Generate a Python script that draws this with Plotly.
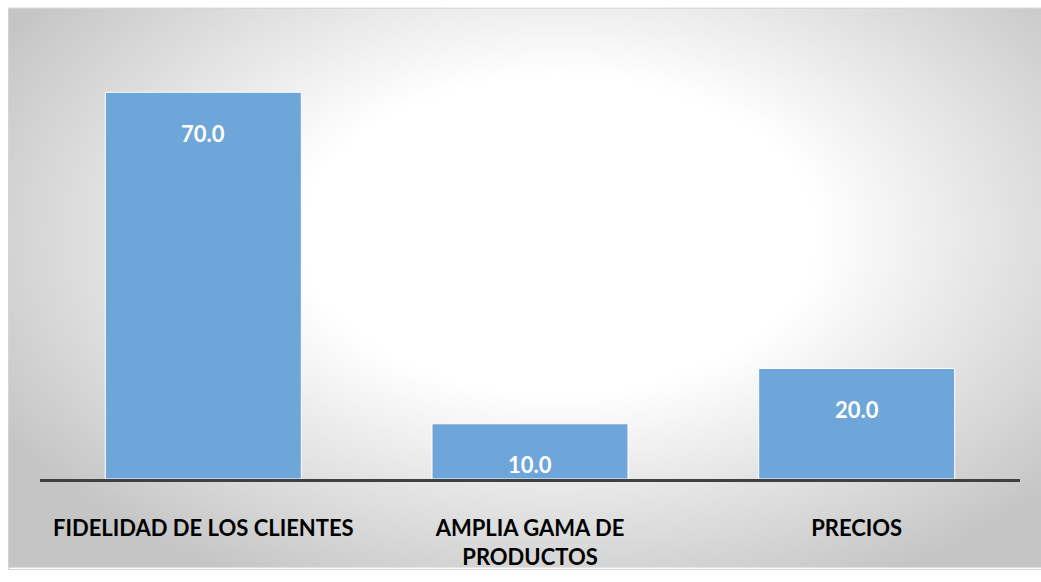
import base64, struct, zlib
import plotly.graph_objects as go

categories = ["FIDELIDAD DE LOS CLIENTES", "AMPLIA GAMA DE<br>PRODUCTOS", "PRECIOS"]
values = [70.0, 10.0, 20.0]
value_labels = ["70.0", "10.0", "20.0"]

# ---- radial gradient background as PNG (styling only) ----
def make_png(w, h):
    rows = []
    cx, cy = 0.53 * w, 0.40 * h
    for j in range(h):
        row = bytearray([0])
        for i in range(w):
            dx = (i - cx) / (0.6 * w)
            dy = (j - cy) / (0.68 * h)
            r = (dx * dx + dy * dy) ** 0.5
            t = min(max((r - 0.42) / 0.62, 0.0), 1.0)
            g = int(round(255 - t * 58))
            row += bytes([g, g, g])
        rows.append(bytes(row))
    raw = b"".join(rows)
    def chunk(tag, data):
        c = struct.pack(">I", len(data)) + tag + data
        return c + struct.pack(">I", zlib.crc32(tag + data) & 0xffffffff)
    png = b"\x89PNG\r\n\x1a\n"
    png += chunk(b"IHDR", struct.pack(">IIBBBBB", w, h, 8, 2, 0, 0, 0))
    png += chunk(b"IDAT", zlib.compress(raw, 9))
    png += chunk(b"IEND", b"")
    return "data:image/png;base64," + base64.b64encode(png).decode()

W, H = 1041, 582
ML, MR, MT, MB = 40, 21, 37, 91
PW, PH = W - ML - MR, H - MT - MB

def px_to_paper_x(px):
    return (px - ML) / PW

def px_to_paper_y(py):
    return (H - MB - py) / PH

FX0, FY0 = 8, 7

fig = go.Figure()
fig.add_trace(go.Bar(
    x=categories, y=values,
    marker=dict(color="#6FA6D9", line=dict(color="white", width=1)),
    width=0.6,
    hoverinfo="skip",
))

for c, v, t in zip(categories, values, value_labels):
    fig.add_annotation(x=c, y=v, text="<b>%s</b>" % t, showarrow=False,
                       yanchor="middle", yshift=-41,
                       font=dict(family="Lato", size=22, color="white"))

fig.add_layout_image(dict(
    source=make_png(160, 90), xref="paper", yref="paper",
    x=px_to_paper_x(FX0), y=px_to_paper_y(FY0),
    sizex=(W - FX0) / PW, sizey=(H - FY0) / PH,
    xanchor="left", yanchor="top", sizing="stretch", layer="below",
))
fig.add_shape(type="rect", xref="paper", yref="paper",
              x0=px_to_paper_x(FX0 + 0.5), x1=px_to_paper_x(W + 2),
              y0=px_to_paper_y(H + 2), y1=px_to_paper_y(FY0 + 0.5),
              line=dict(color="#d4d4d4", width=1), layer="below")

fig.update_layout(
    width=W, height=H,
    margin=dict(l=ML, r=MR, t=MT, b=MB),
    paper_bgcolor="white", plot_bgcolor="rgba(0,0,0,0)",
    showlegend=False,
    bargap=0.4,
    font=dict(family="Lato", color="black"),
    xaxis=dict(showline=True, linecolor="#404040", linewidth=3,
               showgrid=False, zeroline=False, ticks="",
               tickfont=dict(family="Lato", size=22, color="black", weight="bold"),
               ticklabelstandoff=28),
    yaxis=dict(range=[0, 80], visible=False, showgrid=False, zeroline=False),
)

post = ("var gd=document.getElementById('{plot_id}');"
        "gd.style.position='fixed';gd.style.left='0px';gd.style.top='0px';"
        "document.body.style.margin='0';document.body.style.overflow='hidden';"
        "document.documentElement.style.overflow='hidden';")
fig.write_html("out.html", post_script=post,
               config={"displayModeBar": False, "staticPlot": True})
